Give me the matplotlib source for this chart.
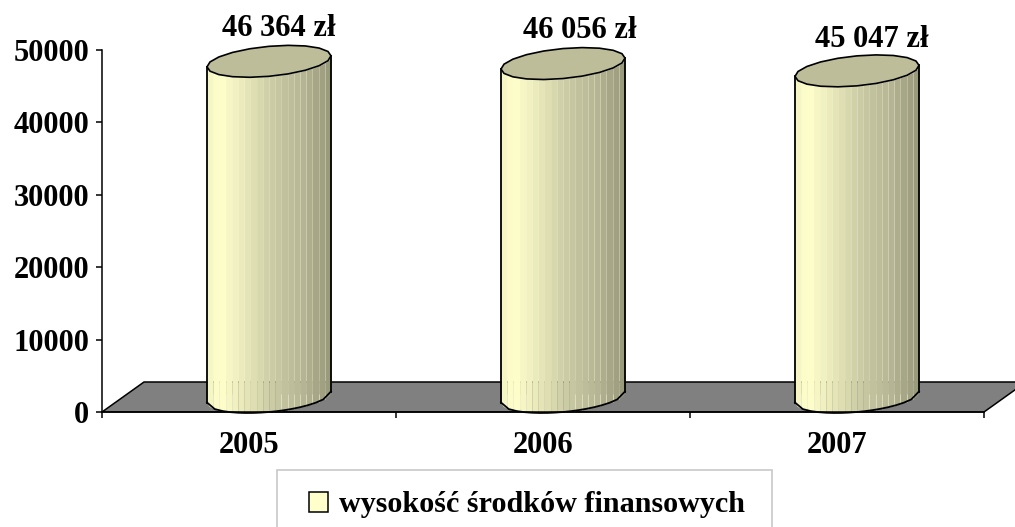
import numpy as np
import matplotlib
matplotlib.use("Agg")
import matplotlib.pyplot as plt
from matplotlib.patches import Patch, Polygon, Rectangle
from matplotlib.colors import LinearSegmentedColormap

plt.rcParams['font.family'] = ['Liberation Serif', 'DejaVu Serif']
plt.rcParams['font.weight'] = 'bold'

years = ["2005", "2006", "2007"]
values = [46364, 46056, 45047]
value_labels = ["46 364 zł", "46 056 zł", "45 047 zł"]
y_ticks = [0, 10000, 20000, 30000, 40000, 50000]
legend_label = "wysokość środków finansowych"

W, H = 1015, 527
fig = plt.figure(figsize=(W / 100, H / 100), dpi=100)
# axes box in pixels: x 102-984, y 50-412
ax = fig.add_axes([102 / W, 1 - 412 / H, 882 / W, 362 / H])
ax.set_xlim(0, 3)
ax.set_ylim(0, 50000)

# size of one pixel in data units, the 3d look is built in pixels
dx = 3 / 882
dy = 50000 / 362

# grey floor
depth_x, depth_y = 42, 30
floor = Polygon([(0, 0), (3, 0), (3 + depth_x * dx, depth_y * dy), (depth_x * dx, depth_y * dy)],
                closed=True, facecolor='#808080', edgecolor='black', lw=1.1, clip_on=False, zorder=1)
ax.add_patch(floor)

cmap = LinearSegmentedColormap.from_list("cyl", [
    (0.0, '#f6f6c4'), (0.08, '#ffffcc'), (0.3, '#e6e6b8'),
    (0.55, '#c8c8a2'), (0.8, '#b4b492'), (1.0, '#9a9a7c')])

half_w = 62
tilt = 5.5
half_h = 15
centre_shift = 20   # cylinder sits this many px right of the category centre
base_shift = 15     # and its base centre this many px above the axis


def ellipse(t, cx, cy):
    x = cx + half_w * np.cos(t) * dx
    y = cy + (half_h * np.sin(t) + tilt * np.cos(t)) * dy
    return x, y


def front_edge(x, cx, cy):
    u = np.clip((x - cx) / (half_w * dx), -1, 1)
    return cy + (-half_h * np.sqrt(1 - u ** 2) + tilt * u) * dy


label_dx = [10, 17, 15]
label_gap = [18, 18, 16]
for i, v in enumerate(values):
    cx = i + 0.5 + centre_shift * dx
    base = base_shift * dy
    top = base + v

    # body as vertical colour strips
    n = 20
    edges = np.linspace(cx - half_w * dx, cx + half_w * dx, n + 1)
    for k in range(n):
        xs = np.linspace(edges[k], edges[k + 1], 5)
        ax.fill_between(xs, front_edge(xs, cx, base), front_edge(xs, cx, top),
                        color=cmap(k / (n - 1)), lw=0, clip_on=False, zorder=3)
    # thin light lines at the right and at the foot
    for k in range(12, n):
        ax.vlines(edges[k], front_edge(edges[k], cx, base), front_edge(edges[k], cx, top),
                  color='#dcdcc0', lw=0.4, alpha=0.6, clip_on=False, zorder=3)
    for k in list(range(1, 5)) + list(range(12, n)):
        ax.vlines(edges[k], front_edge(edges[k], cx, base), base + 3 * dy,
                  color='#f4f4dc', lw=0.5, alpha=0.7, clip_on=False, zorder=3)

    # outline of sides and foot
    xs = np.linspace(cx - half_w * dx, cx + half_w * dx, 17)
    ax.plot(xs, front_edge(xs, cx, base), color='black', lw=1.3, clip_on=False, zorder=4)
    ax.plot([xs[0], xs[0]], [front_edge(xs[0], cx, base), front_edge(xs[0], cx, top)],
            color='black', lw=1.3, clip_on=False, zorder=4)
    ax.plot([xs[-1], xs[-1]], [front_edge(xs[-1], cx, base), front_edge(xs[-1], cx, top)],
            color='black', lw=1.3, clip_on=False, zorder=4)

    # lid, few points so it stays a bit rough
    t = np.linspace(0, 2 * np.pi, 21)
    ex, ey = ellipse(t, cx, top)
    ax.add_patch(Polygon(np.column_stack([ex, ey]), closed=True, facecolor='#bdbd99',
                         edgecolor='black', lw=1.2, clip_on=False, zorder=5))

    ax.text(cx + label_dx[i] * dx, top + (half_h + label_gap[i]) * dy, value_labels[i], ha='center', va='center',
            fontsize=22, fontweight='bold', clip_on=False)

# axes
for s in ['top', 'right']:
    ax.spines[s].set_visible(False)
for s in ['left', 'bottom']:
    ax.spines[s].set_linewidth(1.1)
    ax.spines[s].set_zorder(6)
ax.patch.set_alpha(0)

ax.set_yticks(y_ticks)
ax.set_yticklabels([str(t) for t in y_ticks], fontsize=22, fontweight='bold')
ax.tick_params(axis='y', length=4.3, width=1.1, pad=5)

ax.set_xticks([0, 1, 2, 3])
ax.set_xticklabels([])
ax.tick_params(axis='x', which='major', length=4.3, width=1.1)
ax.set_xticks([0.5, 1.5, 2.5], minor=True)
ax.set_xticklabels(years, minor=True, fontsize=22, fontweight='bold')
ax.tick_params(axis='x', which='minor', length=0, pad=14)

# legend frame drawn apart, it runs off the bottom of the picture
fig.add_artist(Rectangle((277 / W, 1 - 560 / H), (772 - 277) / W, 90 / H, transform=fig.transFigure,
                         facecolor='white', edgecolor='#c8c8c8', lw=1.2))
handle = Patch(facecolor='#ffffcc', edgecolor='black', lw=1.1)
leg = fig.legend([handle], [legend_label], loc='center left',
                 bbox_to_anchor=(309 / W, 1 - 505 / H),
                 prop={'size': 21.7, 'weight': 'bold', 'family': 'Liberation Serif'},
                 frameon=False, borderaxespad=0, borderpad=0,
                 handlelength=0.63, handleheight=0.63, handletextpad=0.36)

fig.savefig("out.png", dpi=100)
